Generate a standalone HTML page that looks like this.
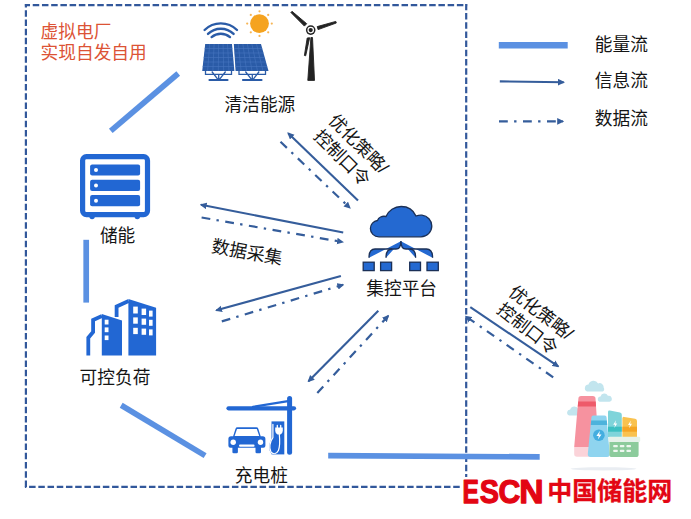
<!DOCTYPE html>
<html lang="zh-CN">
<head>
<meta charset="utf-8">
<title>虚拟电厂</title>
<style>
html,body{margin:0;padding:0;background:#fff;}
body{width:691px;height:519px;overflow:hidden;}
svg{display:block;}
text{font-family:"Liberation Sans","Noto Sans CJK SC",sans-serif;}
.lbl{font-size:17.7px;fill:#151515;}
.red{font-size:17.7px;fill:#dc5335;}
.en{stroke:#5b91e2;stroke-width:5.7;fill:none;}
.info{stroke:#355d9b;stroke-width:2.1;fill:none;}
.data{stroke:#355d9b;stroke-width:2.2;fill:none;stroke-dasharray:8.8 6.3 2.4 6.5;}
</style>
</head>
<body>
<svg width="691" height="519" viewBox="0 0 691 519">
<defs>
<marker id="ah" viewBox="0 0 10 10" refX="8" refY="5" markerWidth="7" markerHeight="7.2" markerUnits="userSpaceOnUse" orient="auto"><path d="M0 0.3 L10 5 L0 9.7 Z" fill="#355d9b"/></marker>
</defs>
<rect width="691" height="519" fill="#fff"/>

<!-- dashed boundary -->
<g id="boundary" fill="none" stroke="#32589b" stroke-width="2.2" stroke-dasharray="6.5 2.72">
<path d="M24.9 5.1 H467.2" stroke-dashoffset="1.38"/>
<path d="M24.9 486.9 H462" stroke-dashoffset="5.02"/>
<path d="M25.9 4.1 V487.9" stroke-dashoffset="3.12"/>
<path d="M466.2 4.1 V478" stroke-dashoffset="0.36"/>
</g>

<!-- title -->
<text class="red" x="40.6" y="37.5">虚拟电厂</text>
<text class="red" x="40.6" y="59.1">实现自发自用</text>

<!-- energy flows -->
<g id="energy">
<line class="en" x1="110.8" y1="130.9" x2="178.2" y2="73.5"/>
<line class="en" x1="86.2" y1="239.8" x2="86.2" y2="302.6"/>
<line class="en" x1="121.2" y1="405.3" x2="205.1" y2="455.6"/>
<line class="en" x1="328.2" y1="455.7" x2="539.7" y2="456.9"/>
</g>

<!-- info + data arrows -->
<g id="arrows">
<line class="info" x1="358" y1="200.5" x2="288.2" y2="133.2" marker-end="url(#ah)"/>
<line class="data" x1="280.5" y1="141.8" x2="349.8" y2="207.9" marker-end="url(#ah)"/>
<line class="info" x1="343.2" y1="232.5" x2="201" y2="204.8" marker-end="url(#ah)"/>
<line class="data" x1="201.6" y1="217.5" x2="342.6" y2="242" marker-end="url(#ah)"/>
<line class="info" x1="340.9" y1="276" x2="216.4" y2="310.3" marker-end="url(#ah)"/>
<line class="data" x1="221.8" y1="321.4" x2="343" y2="284.8" marker-end="url(#ah)"/>
<line class="info" x1="378.3" y1="310.8" x2="308.5" y2="381.3" marker-end="url(#ah)"/>
<line class="data" x1="317.3" y1="392.9" x2="388.2" y2="315.9" marker-end="url(#ah)"/>
<line class="info" x1="470.3" y1="307.2" x2="558.2" y2="366.4" marker-end="url(#ah)"/>
<line class="data" x1="553.2" y1="377.3" x2="466" y2="316.5" marker-end="url(#ah)"/>
</g>

<!-- labels -->
<text class="lbl" x="224.5" y="110.7">清洁能源</text>
<text class="lbl" x="99.9" y="242.4">储能</text>
<text class="lbl" x="79.6" y="383.9">可控负荷</text>
<text class="lbl" x="234.8" y="481.8">充电桩</text>
<text class="lbl" x="366.3" y="294.6">集控平台</text>
<text class="lbl" transform="translate(247 252.5) rotate(10.3)" text-anchor="middle" y="6" style="font-size:17.9px">数据采集</text>
<g transform="translate(358.4 144.1) rotate(45)"><text class="lbl" text-anchor="middle" y="6">优化策略/</text></g>
<g transform="translate(342 158) rotate(45)"><text class="lbl" text-anchor="middle" y="6">控制口令</text></g>
<g transform="translate(540.9 312.8) rotate(38)"><text class="lbl" text-anchor="middle" y="6">优化策略/</text></g>
<g transform="translate(527.4 328.9) rotate(38)"><text class="lbl" text-anchor="middle" y="6">控制口令</text></g>

<!-- legend -->
<g id="legend">
<line class="en" x1="498.8" y1="45.2" x2="567.7" y2="45.2" style="stroke-width:6.4"/>
<line class="info" x1="499.8" y1="81.4" x2="563.6" y2="82.2" marker-end="url(#ah)"/>
<line class="data" x1="499" y1="121.4" x2="562.8" y2="121.4" marker-end="url(#ah)"/>
<text class="lbl" x="594.8" y="50.8">能量流</text>
<text class="lbl" x="594.8" y="87.1">信息流</text>
<text class="lbl" x="594.8" y="124.5">数据流</text>
</g>

<!-- ICONS -->
<g id="icons">
<!-- wifi -->
<g fill="none" stroke="#2a5ba7" stroke-width="2.4" stroke-linecap="round">
<path d="M204.6 30 A23 23 0 0 1 237 30"/>
<path d="M208 33.9 A18.3 18.3 0 0 1 233.6 33.9"/>
<path d="M211.6 37.1 A14.5 14.5 0 0 1 230 37.1"/>
</g>
<!-- sun -->
<circle cx="259.5" cy="23.6" r="9.4" fill="#f5a31f"/>
<g fill="#f6b555">
<circle cx="259.5" cy="11.3" r="1.1"/><circle cx="259.5" cy="35.9" r="1.1"/>
<circle cx="247.2" cy="23.6" r="1.1"/><circle cx="271.8" cy="23.6" r="1.1"/>
<circle cx="250.8" cy="14.9" r="1.1"/><circle cx="268.2" cy="14.9" r="1.1"/>
<circle cx="250.8" cy="32.3" r="1.1"/><circle cx="268.2" cy="32.3" r="1.1"/>
</g>
<!-- solar panels -->
<g>
<g fill="none" stroke="#2a5ba7" stroke-width="1.3">
<path d="M205.5 71 V74.4 H231.5 V71 M218.7 74.4 V79.5 M211.8 71.5 L217.7 79.2 M225.6 71.5 L219.7 79.2"/>
<path d="M239 71 V74.4 H265.5 V71 M252.3 74.4 V79.5 M245.4 71.5 L251.3 79.2 M259.2 71.5 L253.3 79.2"/>
</g>
<g stroke="#2a5ba7" stroke-width="2.2" stroke-linecap="round"><path d="M209.5 80 H227.5 M243 80 H261.5"/></g>
<path d="M205.2 44 H232 L234.4 71 H202.2 Z" fill="#2a5ba7"/>
<path d="M233.8 44 H261 L268.5 71 H235.6 Z" fill="#2a5ba7"/>
<g stroke="#4a79c2" stroke-width="0.6" fill="none" opacity="0.9">
<path d="M204.7 48.5 H232.4 M204.2 53 H232.8 M203.7 57.5 H233.2 M203.2 62 H233.6 M202.7 66.5 H234"/>
<path d="M209.7 44 L207.6 71 M214.1 44 L212.9 71 M218.6 44 L218.3 71 M223.1 44 L223.7 71 M227.5 44 L229 71"/>
<path d="M234.2 48.5 H262.2 M234.6 53 H263.5 M235 57.5 H264.7 M235.2 62 H266 M235.4 66.5 H267.2"/>
<path d="M238.3 44 L241.1 71 M242.9 44 L246.6 71 M247.4 44 L252 71 M251.9 44 L257.5 71 M256.5 44 L263 71"/>
</g>
</g>
<!-- wind turbine -->
<g fill="#222" stroke="#222" stroke-width="0.9" stroke-linejoin="round">
<path d="M310.9 37.5 L312.5 37.5 L314.5 80.4 L307.8 80.4 Z"/>
<path d="M306.7 23.7 L304.4 26.1 L290.9 12.5 L292 11.3 Z"/>
<path d="M318.1 29.6 L317.2 26.6 L335.8 21.4 L336.3 23 Z"/>
<path d="M307.2 38 L309.7 37.7 L305.7 55.8 L304.4 55.5 Z"/>
</g>
<circle cx="310.7" cy="30.1" r="4.8" fill="#222"/>
<circle cx="310.7" cy="30.1" r="3.3" fill="#fff"/>
<circle cx="310.7" cy="30.1" r="2.1" fill="#222"/>
<!-- storage -->
<g>
<circle cx="92.1" cy="216.6" r="2.7" fill="#2267d3"/><circle cx="137.3" cy="216.6" r="2.7" fill="#2267d3"/>
<rect x="82.6" y="156.7" width="64.9" height="57.9" rx="3.8" fill="#fff" stroke="#2267d3" stroke-width="5.2"/>
<g fill="#2267d3">
<rect x="90.1" y="164.4" width="50" height="11.2" rx="2"/>
<rect x="90.1" y="179.8" width="50" height="11.2" rx="2"/>
<rect x="90.1" y="195.1" width="50" height="11.2" rx="2"/>
</g>
<g fill="#fff"><circle cx="96" cy="170" r="2"/><circle cx="96" cy="185.4" r="2"/><circle cx="96" cy="200.7" r="2"/></g>
</g>
<!-- buildings -->
<g>
<path d="M128.4 298.9 L156.1 307.7 V355.5 H128.4 Z" fill="#2267d3"/>
<path d="M128.6 300.9 L116.6 306.4 V317" fill="none" stroke="#2267d3" stroke-width="3.8"/>
<path d="M101.8 313.9 L122 320.6 V355.5 H101.8 Z" fill="#2267d3"/>
<path d="M102 315.9 L93.1 319.9 V332 L88.3 337.8 V355.5" fill="none" stroke="#2267d3" stroke-width="3.8"/>
<g fill="#fff">
<rect x="133.2" y="306.6" width="4.6" height="6.9"/><rect x="141.6" y="308.6" width="4.5" height="6.4"/><rect x="149" y="310.6" width="3.6" height="6"/>
<rect x="133.2" y="317.4" width="4.6" height="6.3"/><rect x="141.6" y="318.6" width="4.5" height="6.2"/><rect x="149" y="319.8" width="3.6" height="6"/>
<rect x="133.2" y="327.8" width="4.6" height="6.3"/><rect x="141.6" y="328.6" width="4.5" height="6.2"/><rect x="149" y="329.4" width="3.6" height="6"/>
<rect x="104.7" y="319.7" width="3.8" height="4.8"/><rect x="104.7" y="327.4" width="3.8" height="4.8"/><rect x="104.7" y="335.5" width="3.8" height="4.6"/>
</g>
</g>
<!-- cloud platform -->
<g>
<path d="M379 236.8 C374 236.8 370.4 233 370.4 228.5 C370.4 224.5 373.5 221 377.5 220.5 C378.5 217.5 382 215.5 386 216.5 C388.5 210.5 394.5 206.5 401.2 206.5 C408 206.5 413.5 210.5 416 216 C418 215.3 420 215 422 215.2 C427.5 215.8 431.8 220.5 431.8 226 C431.8 232 427 236.8 421 236.8 Z" fill="#2469d1" stroke="#1b3057" stroke-width="1.3"/>
<g fill="#2469d1" stroke="none">
<path d="M400.9 241.2 C400.9 246 399 249 396 249 L375 249 C371 249 369 252 369 257.8 Z"/>
<path d="M400.9 241.2 C400.9 246 399 249 396 249 L392 249 C388 249 386 252 386 257.8 Z"/>
<path d="M400.9 241.2 C400.9 246 403 249 406 249 L410 249 C414 249 415.6 252 415.6 257.8 Z"/>
<path d="M400.9 241.2 C400.9 246 403 249 406 249 L426.5 249 C430.5 249 432.6 252 432.6 257.8 Z"/>
</g>
<g fill="none" stroke="#1b3057" stroke-width="1.3">
<path d="M400.9 241.2 C400.9 246 399 249 396 249 L375 249 C371 249 369 252 369 257.8"/>
<path d="M392 249 C388 249 386 252 386 257.8"/>
<path d="M400.9 241.2 C400.9 246 403 249 406 249 L426.5 249 C430.5 249 432.6 252 432.6 257.8"/>
<path d="M410 249 C414 249 415.6 252 415.6 257.8"/>
</g>
<g fill="#2469d1" stroke="#1b3057" stroke-width="1.3">
<rect x="363.2" y="262.2" width="11" height="8.4"/>
<rect x="380.6" y="262.2" width="11" height="8.4"/>
<rect x="409.7" y="262.2" width="10.8" height="8.4"/>
<rect x="427" y="262.2" width="11.3" height="8.4"/>
</g>
</g>
<!-- charging station -->
<g>
<g stroke="#2267d3" stroke-linecap="round" fill="none">
<path d="M289.6 398.5 V452.3" stroke-width="5"/>
<path d="M228.5 408.3 H294" stroke-width="4.2"/>
<path d="M253 406.8 L288 401.2" stroke-width="2.2"/>
</g>
<rect x="271.5" y="421.4" width="12.8" height="33" fill="#2267d3"/>
<path d="M272.6 437.5 C269 442 268.5 448 270.3 452 C272 455 276 455 277.8 452 Z" fill="#2267d3"/>
<path d="M279.3 434 C279.9 440 279.9 446.5 278.4 450.6 C276.6 454.6 272.4 454.6 270.8 451.6 C269 447.8 269.6 442 272.9 437.6 V424.3" fill="none" stroke="#fff" stroke-width="1.2" stroke-linecap="round"/>
<path d="M275.2 427.5 H282.8 V430.4 C282.8 433 281.1 434.6 279 434.6 C276.9 434.6 275.2 433 275.2 430.4 Z" fill="#fff"/>
<path d="M277.3 425.5 V428.5 M280.7 425.5 V428.5" stroke="#fff" stroke-width="1.3" stroke-linecap="round"/>
<!-- car -->
<g fill="#2267d3">
<rect x="232.4" y="445" width="5.5" height="8.3" rx="1.3"/>
<rect x="255.5" y="445" width="5.5" height="8.3" rx="1.3"/>
<path d="M233.1 436.2 L235.5 428.7 Q235.9 427.3 237.5 427.3 H256.3 Q257.9 427.3 258.3 428.7 L260.7 436.2 H262.8 Q265.4 436.2 265.4 438.8 V445.8 Q265.4 447.8 263.4 447.8 H230.4 Q228.4 447.8 228.4 445.8 V438.8 Q228.4 436.2 231 436.2 Z"/>
</g>
<path d="M237 429.1 H256.8 L259.2 435.9 H234.6 Z" fill="#fff"/>
<circle cx="233.2" cy="442.3" r="2.7" fill="#fff"/><circle cx="260.5" cy="442.3" r="2.7" fill="#fff"/>
<path d="M240.1 445.7 H253.5" stroke="#fff" stroke-width="2.2" stroke-linecap="round"/>
</g>
<!-- factory -->
<g>
<ellipse cx="603.5" cy="468.8" rx="33" ry="1.6" fill="#e9edf2"/>
<g fill="#c2e5ee">
<path d="M587 391.5 a3.6 3.6 0 0 1 1.5 -6.9 a5.2 5.2 0 0 1 9.6 -1.2 a4.2 4.2 0 0 1 5.6 4.4 a2.4 2.4 0 0 1 -1 3.7 Z"/>
<path d="M599.5 401.8 a2.8 2.8 0 0 1 1 -5.4 a4 4 0 0 1 7.4 -0.6 a3 3 0 0 1 1.6 6 Z"/>
<path d="M569.2 415.6 a3.2 3.2 0 0 1 1 -6.2 a4.4 4.4 0 0 1 8.2 -0.4 a3.3 3.3 0 0 1 1.2 6.6 Z"/>
</g>
<path d="M578.4 398.6 Q578.4 395.9 581.1 395.9 H592.8 Q595.5 395.9 595.5 398.6 L598.7 447 H574.2 Z" fill="#f6929f"/>
<path d="M578.2 401.4 H595.7 L596 406.4 H577.8 Z" fill="#ee5a6a"/>
<path d="M574.2 447 H598.7 V454 Q598.7 456.8 595.9 456.8 H577 Q574.2 456.8 574.2 454 Z" fill="#fbd3d9"/>
<path d="M591.4 417.5 Q591.4 415.5 593.4 415.5 H604.6 Q606.6 415.5 606.6 417.5 L609.7 454 Q609.9 457 606.9 457 H590.6 Q587.6 457 587.8 454 Z" fill="#8fd4ef"/>
<path d="M591.2 420.6 H606.8 L607.2 425 H590.8 Z" fill="#4db3dc"/>
<circle cx="598.9" cy="435.2" r="5.8" fill="#43aee0"/>
<path d="M600 430.8 L596.4 436 H598.8 L597.9 439.6 L601.5 434.4 H599.1 Z" fill="#fff"/>
<path d="M608 412 Q608 410.2 609.8 410.6 L620 412.6 Q621.8 413 621.8 414.8 V437 H608 Z" fill="#7fd4da"/>
<rect x="608" y="426.7" width="13.8" height="5" fill="#3cc0c2"/>
<path d="M616.1 420.2 L613.2 424.7 H615.1 L614.3 428 L617.2 423.5 H615.3 Z" fill="#fff"/>
<path d="M622.4 418.4 Q622.4 416.6 624.2 416.9 L635.2 418.8 Q637 419.2 637 421 V437 H622.4 Z" fill="#f9c24f"/>
<rect x="622.4" y="426.7" width="14.6" height="5" fill="#f5a524"/>
<path d="M630.9 420.4 L628 424.9 H629.9 L629.1 428.2 L632 423.7 H630.1 Z" fill="#fff"/>
<path d="M609.4 441.5 H638.6 V454.4 Q638.6 457 636 457 H612 Q609.4 457 609.4 454.4 Z" fill="#8ccb9c"/>
<rect x="608.6" y="436.8" width="31.6" height="5.1" rx="1.2" fill="#e6f2ea"/>
<g fill="#eef7f0">
<rect x="613.2" y="445" width="4.6" height="2.3" rx="0.8"/><rect x="619.8" y="445" width="4.6" height="2.3" rx="0.8"/><rect x="626.4" y="445" width="4.6" height="2.3" rx="0.8"/>
<rect x="613.2" y="449.7" width="4.6" height="2.3" rx="0.8"/><rect x="619.8" y="449.7" width="4.6" height="2.3" rx="0.8"/><rect x="626.4" y="449.7" width="4.6" height="2.3" rx="0.8"/>
</g>
</g>
</g>

<!-- watermark -->
<g id="wm">
<rect x="461.5" y="477" width="229.5" height="42" fill="#fff"/>
<text y="502.5" font-size="33.2" font-weight="bold" fill="#e30613" stroke="#e30613" stroke-width="1.25" stroke-linejoin="round"><tspan x="462.6" textLength="16.4" lengthAdjust="spacingAndGlyphs">E</tspan><tspan x="479.7" textLength="19.2" lengthAdjust="spacingAndGlyphs">S</tspan><tspan x="498.6" textLength="21.8" lengthAdjust="spacingAndGlyphs">C</tspan><tspan x="519.3" textLength="24.3" lengthAdjust="spacingAndGlyphs">N</tspan></text>
<text x="547.3" y="500.2" font-size="25" font-weight="bold" fill="#e30613" stroke="#e30613" stroke-width="0.3">中国储能网</text>
</g>
</svg>
</body>
</html>
